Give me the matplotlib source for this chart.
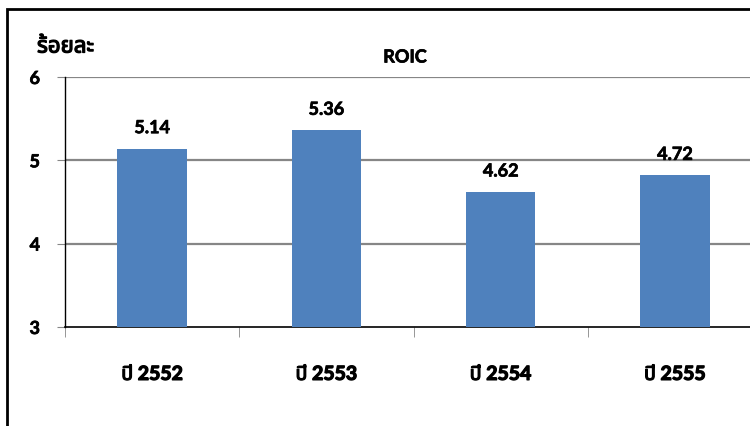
#!/usr/bin/env python3
import matplotlib
matplotlib.use('Agg')
import matplotlib.pyplot as plt
import matplotlib.patheffects as pe
from matplotlib import font_manager
from matplotlib.patches import Rectangle

years      = ['ปี 2552', 'ปี 2553', 'ปี 2554', 'ปี 2555']
roic       = [5.14, 5.36, 4.62, 4.82]          # bar heights as drawn
roic_label = ['5.14', '5.36', '4.62', '4.72']  # labels as printed
y_ticks    = [3, 4, 5, 6]

# pick a font that can draw Thai if there is one
names = {f.name for f in font_manager.fontManager.ttflist}
thai = [n for n in ['Noto Sans Thai', 'Noto Sans Thai UI', 'Loma', 'Garuda',
                    'Tahoma', 'Leelawadee UI', 'Norasi', 'Tlwg Typo'] if n in names]
plt.rcParams['font.family'] = ['Lato', 'DejaVu Sans']
thai_fam = ['Lato'] + thai + ['DejaVu Sans']
# thai font has no bold face here, so thicken it a little
fake_bold = [pe.withStroke(linewidth=0.9, foreground='black')]
# numbers a touch heavier too, closer to the original
heavier = [pe.withStroke(linewidth=0.5, foreground='black')]

fig = plt.figure(figsize=(7.5, 4.27), dpi=100)
ax = fig.add_axes([65/750, 1-328/427, 697/750, 250/427])

x = range(len(years))
ax.bar(x, roic, width=0.4, bottom=0, color='#4f81bd', zorder=3)
ax.set_xlim(-0.5, 3.5)
ax.set_ylim(3, 6)

# gridlines
for v in y_ticks[1:]:
    ax.axhline(v, color='#868686', lw=1.6, zorder=1)

for s in ['top', 'right']:
    ax.spines[s].set_visible(False)
ax.spines['left'].set_color('black')
ax.spines['left'].set_linewidth(1.0)
ax.spines['bottom'].set_color('black')
ax.spines['bottom'].set_linewidth(1.2)

ax.set_yticks(y_ticks)
ax.set_yticklabels([str(v) for v in y_ticks], fontsize=13, fontweight='bold')
for t in ax.get_yticklabels():
    t.set_path_effects(heavier)
ax.tick_params(axis='y', length=6, color='#868686', pad=12)

ax.set_xticks(list(x))
ax.set_xticklabels(years, fontsize=14, fontweight='bold', family=thai_fam)
for t in ax.get_xticklabels():
    t.set_path_effects(fake_bold)
ax.tick_params(axis='x', which='major', length=0, pad=28)
ax.set_xticks([-0.5, 0.5, 1.5, 2.5], minor=True)
ax.tick_params(axis='x', which='minor', length=7, color='#868686')

for xi, h, lab in zip(x, roic, roic_label):
    ax.annotate(lab, xy=(xi, h), xytext=(0, 9), textcoords='offset points',
                ha='center', va='bottom', fontsize=13, fontweight='bold',
                path_effects=heavier)

fig.text(405/750, 1-58/427, 'ROIC', ha='center', va='center',
         fontsize=13, fontweight='bold', path_effects=heavier)
fig.text(37/750, 1-47/427, 'ร้อยละ', ha='left', va='center',
         fontsize=16, fontweight='bold', family=thai_fam,
         path_effects=fake_bold)

# outer chart border (cut off at right and bottom)
fig.patches.append(Rectangle((7/750, -0.1), 1.2, 1.1 - 10/427,
                             transform=fig.transFigure, fill=False,
                             edgecolor='black', lw=2, zorder=10))

fig.savefig('out.png', dpi=100)
